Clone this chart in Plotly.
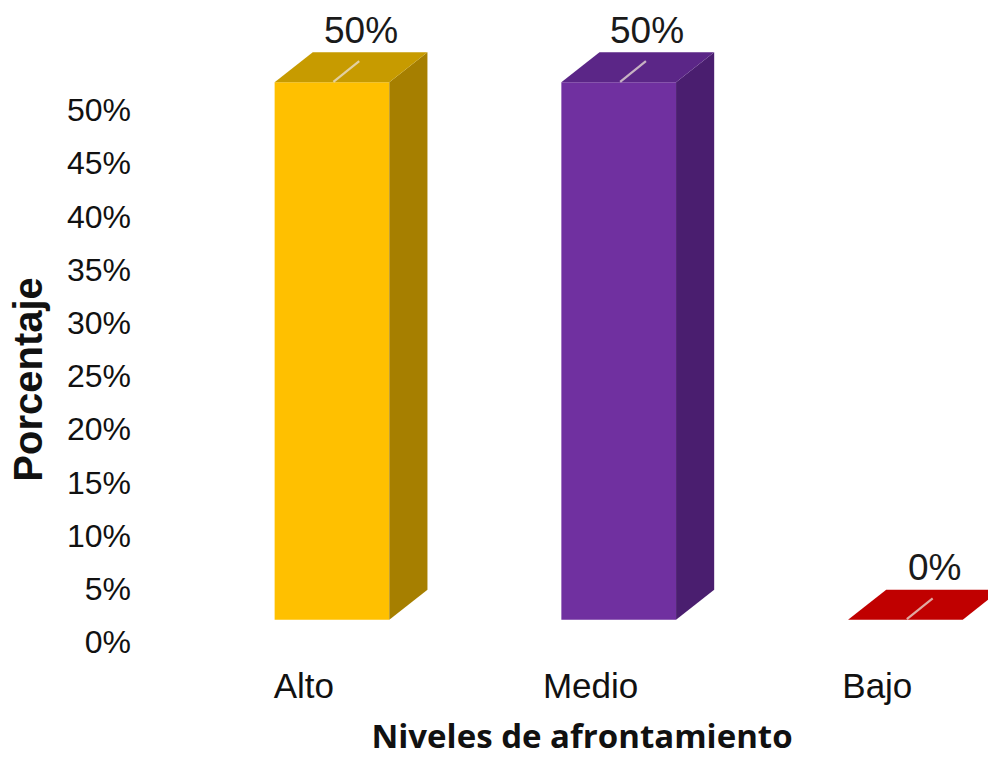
import plotly.graph_objects as go

# ---- data ----
categories = ["Alto", "Medio", "Bajo"]
values = [50, 50, 0]
y_tick_values = [0, 5, 10, 15, 20, 25, 30, 35, 40, 45, 50]
y_tick_labels = ["0%", "5%", "10%", "15%", "20%", "25%", "30%", "35%", "40%", "45%", "50%"]
front_colors = ["#FFC000", "#7030A0", "#C00000"]
top_colors = ["#C79B00", "#5B2687", "#C00000"]
side_colors = ["#A67F00", "#4A1E6F", "#9A0000"]

# ---- 3D projection parameters (in axis units) ----
half_w = 0.2
dx, dy = 0.133, 2.82
base = 2.1
scale = 1.01
label_shift = 0.098

fig = go.Figure()
for i, (cat, v) in enumerate(zip(categories, values)):
    top = base + v * scale
    xl, xr = i - half_w, i + half_w
    # front face
    fig.add_trace(go.Scatter(
        x=[xl, xr, xr, xl, xl], y=[base, base, top, top, base],
        fill="toself", fillcolor=front_colors[i], mode="lines",
        line=dict(width=0, color=front_colors[i]), hoverinfo="skip", showlegend=False))
    # side face
    fig.add_trace(go.Scatter(
        x=[xr, xr + dx, xr + dx, xr, xr], y=[base, base + dy, top + dy, top, base],
        fill="toself", fillcolor=side_colors[i], mode="lines",
        line=dict(width=0, color=side_colors[i]), hoverinfo="skip", showlegend=False))
    # top face
    fig.add_trace(go.Scatter(
        x=[xl, xr, xr + dx, xl + dx, xl], y=[top, top, top + dy, top + dy, top],
        fill="toself", fillcolor=top_colors[i], mode="lines",
        line=dict(width=0, color=top_colors[i]), hoverinfo="skip", showlegend=False))
    # leader line
    fig.add_trace(go.Scatter(
        x=[i + 0.005, i + 0.095], y=[top + 0.05, top + 2.0], mode="lines",
        line=dict(width=2.2, color="rgba(235,225,215,0.75)"), hoverinfo="skip", showlegend=False))
    # data label
    fig.add_annotation(x=i + 0.1, y=v * scale + base + 4.9, text=f"{v}%", showarrow=False,
                       font=dict(family="Liberation Sans, Arial", size=37, color="#1a1a1a"),
                       xanchor="center", yanchor="middle")

fig.add_annotation(xref="paper", yref="paper", x=-0.182, y=0.425, xanchor="center", yanchor="middle",
                   text="<b>Porcentaje</b>", textangle=-90, showarrow=False,
                   font=dict(family="Liberation Sans, Arial", size=40, color="#111"))

fig.update_layout(
    width=988, height=758,
    margin=dict(l=176, r=0, t=0, b=98),
    plot_bgcolor="white", paper_bgcolor="white",
    xaxis=dict(range=[-0.544, 2.288], tickvals=[i - label_shift for i in range(len(categories))],
               ticktext=categories, showgrid=False, zeroline=False, showline=False, ticks="",
               tickfont=dict(family="Liberation Sans, Arial", size=35, color="#111"),
               ticklabelstandoff=2,
               title=dict(text="<b>Niveles de afrontamiento</b>", standoff=25,
                          font=dict(family="Open Sans", size=33, color="#111"))),
    yaxis=dict(range=[-1.69, 60.34], tickvals=y_tick_values, ticktext=y_tick_labels,
               showgrid=False, zeroline=False, showline=False, ticks="",
               tickfont=dict(family="Liberation Sans, Arial", size=32, color="#111"),
               ticklabelstandoff=44),
)

fig.write_html("out.html")
